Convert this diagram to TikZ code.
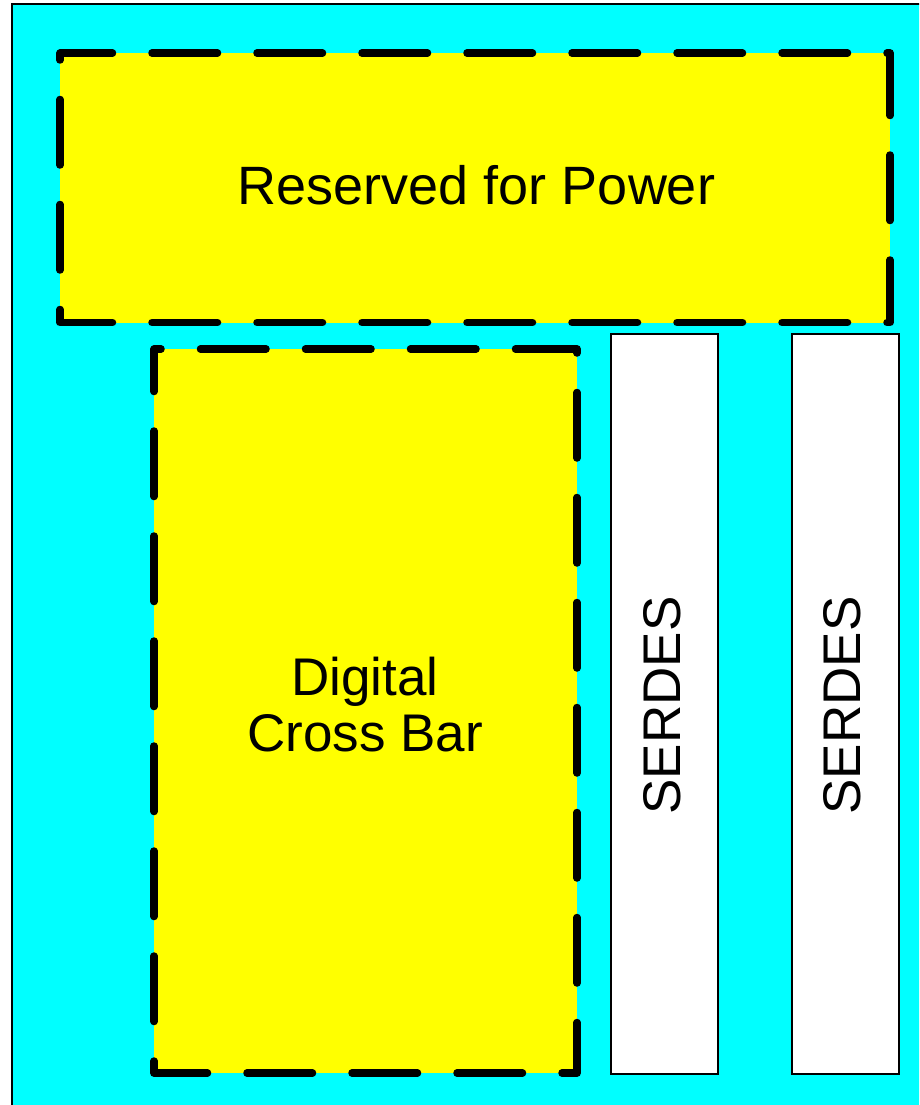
\documentclass[tikz,border=0pt]{standalone}
\usepackage{fontspec}
\setmainfont{Liberation Sans}
\usepackage{xcolor}
\usepackage{tikz}
\usetikzlibrary{positioning}
\definecolor{dieCyan}{RGB}{0,255,255}
\definecolor{resYellow}{RGB}{255,255,0}
\tikzset{
  area/.style={rectangle, inner sep=0pt, outer sep=0pt, fill=resYellow},
  dashline/.style={draw=black, line width=7.5pt, line cap=round, line join=round, dash pattern=on 65.5pt off 39.5pt},
  lane/.style={rectangle, inner sep=0pt, outer sep=0pt, fill=white, draw=black, line width=2pt, minimum width=107pt, minimum height=740pt},
  lbl/.style={inner sep=0pt, font=\fontsize{53}{56}\selectfont, align=center}
}

\begin{document}
\begin{tikzpicture}[x=1pt,y=-1pt]
  \useasboundingbox (0,0) rectangle (919,1105);
  \clip (0,0) rectangle (919,1105);
  % die outline, runs off the page on the right and bottom
  \draw[fill=dieCyan, line width=2pt] (12,4.5) rectangle (940,1130);
  \node[area, minimum width=830pt, minimum height=269.5pt] (power) at (475,187.75) {};
  \node[area, minimum width=423pt, minimum height=724pt] (xbar) at (365.5,711) {};
  \node[lane] (serdesA) at (664.5,704) {};
  \node[lane, right=73.5pt of serdesA] (serdesB) {};
  \draw[dashline, dash phase=13pt] (power.north west) -- (power.north east) -- (power.south east) -- (power.south west) -- cycle;
  \draw[dashline, dash phase=58.5pt] (xbar.north west) -- (xbar.north east) -- (xbar.south east) -- (xbar.south west) -- cycle;
  \node[lbl, anchor=base, font=\fontsize{54}{56}\selectfont] (powertxt) at (476.5,204) {Reserved for Power};
  \node[lbl] (xbartxt) at (365,705) {Digital\\Cross Bar};
  \node[lbl, anchor=base, rotate=90] (serdesAtxt) at (680,705.5) {SERDES};
  \node[lbl, anchor=base, rotate=90] (serdesBtxt) at (860,705.5) {SERDES};
\end{tikzpicture}
\end{document}
